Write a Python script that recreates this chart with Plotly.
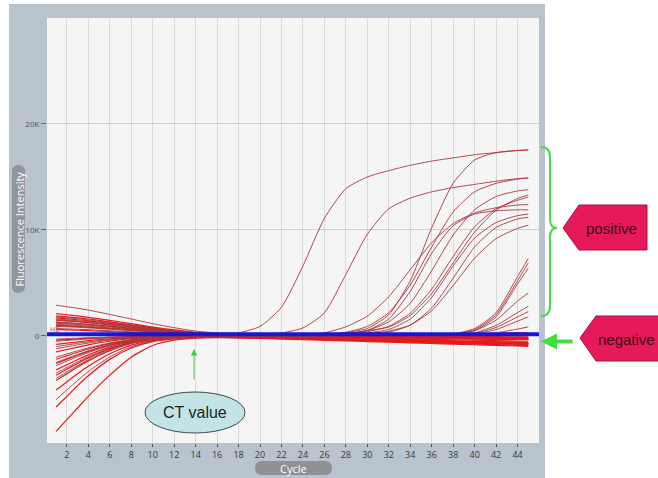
import plotly.graph_objects as go

# ---------------- data ----------------
cycles = [1, 2, 3, 4, 6, 8, 10, 12, 14, 16, 18, 20, 22, 24, 26, 28, 30, 32, 34, 36, 38, 40, 42, 44, 45]

positive_curves = [
    [2900, 2760, 2610, 2440, 2030, 1600, 1160, 780, 460, 290, 300, 900, 2700, 6600, 11100, 13900, 15000, 15600, 16100, 16500, 16800, 17100, 17300, 17500, 17550],
    [1800, 1710, 1620, 1510, 1260, 990, 720, 490, 300, 200, 150, 180, 280, 760, 2170, 5800, 9600, 12000, 13000, 13600, 14000, 14300, 14600, 14850, 14900],
    [1500, 1420, 1350, 1260, 1050, 820, 600, 400, 250, 150, 100, 80, 80, 100, 150, 330, 700, 2000, 5200, 10200, 14400, 16600, 17300, 17500, 17550],
    [1300, 1240, 1170, 1090, 910, 720, 520, 350, 210, 130, 80, 60, 50, 60, 120, 350, 900, 2200, 4800, 8400, 11700, 13600, 14400, 14800, 14900],
    [-300, -250, -210, -170, -100, -50, -20, 0, 10, 20, 30, 40, 50, 60, 80, 200, 520, 1330, 3080, 6160, 9520, 11900, 13160, 13680, 13800],
    [1100, 1050, 990, 920, 770, 600, 440, 300, 180, 110, 70, 50, 50, 60, 80, 150, 400, 910, 2140, 4420, 7500, 10300, 12000, 12800, 13100],
    [900, 860, 810, 760, 630, 500, 360, 240, 150, 90, 60, 50, 50, 60, 100, 220, 520, 1600, 4200, 7800, 10400, 11500, 11800, 11900, 11900],
    [-1000, -850, -700, -560, -330, -170, -80, -40, -20, 0, 10, 20, 30, 40, 60, 120, 300, 610, 1600, 3640, 6600, 9240, 10700, 11350, 11500],
    [-2000, -1700, -1400, -1120, -660, -340, -160, -80, -40, -20, 0, 10, 20, 30, 50, 100, 200, 360, 1020, 2640, 5450, 8400, 10240, 11040, 11200],
    [700, 670, 630, 590, 490, 390, 280, 190, 110, 70, 50, 40, 40, 50, 60, 100, 200, 450, 1030, 2380, 4750, 7340, 9180, 10150, 10450],
    [1600, 1520, 1440, 1340, 1120, 880, 640, 430, 260, 160, 100, 80, 80, 90, 120, 250, 500, 840, 1930, 4000, 6900, 9800, 11870, 12970, 13300],
    [-500, -420, -350, -280, -160, -80, -40, -20, 0, 10, 20, 40, 60, 120, 300, 860, 1870, 3700, 6250, 8800, 10600, 11600, 12100, 12350, 12400],
    [-1200, -1020, -840, -670, -400, -200, -100, -50, -30, -20, -10, 0, 10, 20, 30, 40, 60, 100, 130, 160, 200, 700, 2200, 5600, 7300],
    [-2500, -2120, -1750, -1400, -820, -420, -200, -100, -50, -30, -20, -10, 0, 10, 20, 30, 50, 70, 100, 120, 150, 600, 2000, 5200, 6900],
    [1200, 1140, 1080, 1010, 840, 660, 480, 320, 190, 120, 80, 60, 50, 50, 50, 60, 70, 80, 90, 100, 100, 500, 1800, 4900, 6400],
    [-3500, -2980, -2450, -1960, -1160, -600, -280, -140, -70, -40, -20, -10, 0, 10, 20, 30, 40, 60, 80, 120, 200, 500, 1500, 3300, 4050],
    [-4000, -3400, -2800, -2240, -1320, -680, -320, -160, -80, -50, -30, -20, -10, 0, 10, 20, 30, 40, 60, 100, 150, 300, 1000, 2200, 2800],
    [1000, 950, 900, 840, 700, 550, 400, 270, 160, 100, 70, 50, 40, 40, 40, 50, 60, 70, 80, 100, 120, 250, 800, 1800, 2300],
    [-2800, -2380, -1960, -1570, -920, -480, -220, -110, -60, -40, -20, -10, 0, 0, 10, 20, 30, 40, 60, 80, 100, 200, 600, 1400, 1800],
    [-6000, -5100, -4200, -3360, -1980, -1020, -480, -240, -120, -60, -30, -20, -10, 0, 0, 10, 20, 30, 40, 60, 80, 120, 300, 650, 850],
]

negative_curves = [
    [2100, 2000, 1890, 1760, 1470, 1160, 840, 570, 340, 210, 120, 60, 20, 0, -30, -60, -80, -100, -120, -150, -170, -190, -210, -230, -240],
    [1900, 1800, 1710, 1600, 1330, 1050, 760, 510, 300, 180, 90, 30, 0, -30, -60, -90, -120, -150, -180, -210, -240, -270, -300, -330, -340],
    [1700, 1620, 1530, 1430, 1190, 940, 680, 460, 270, 150, 80, 40, 20, 10, 0, 0, -10, -20, -30, -40, -50, -60, -70, -80, -90],
    [1500, 1430, 1350, 1260, 1050, 830, 600, 400, 240, 130, 50, 0, -50, -100, -150, -200, -250, -300, -350, -400, -450, -500, -550, -600, -620],
    [1300, 1240, 1170, 1090, 910, 720, 520, 350, 210, 120, 60, 20, 0, 0, 20, 40, 60, 80, 100, 130, 160, 200, 250, 300, 320],
    [1000, 950, 900, 840, 700, 550, 400, 270, 160, 80, 30, 0, -20, -40, -60, -80, -100, -120, -150, -180, -210, -240, -270, -300, -310],
    [600, 570, 540, 500, 420, 330, 240, 160, 90, 40, 0, -30, -60, -90, -120, -160, -200, -240, -280, -320, -360, -400, -440, -480, -500],
    [200, 190, 180, 160, 130, 100, 60, 30, 0, -20, -40, -60, -80, -100, -120, -140, -160, -180, -200, -220, -240, -260, -280, -300, -310],
    [-400, -340, -280, -220, -130, -70, -40, -30, -40, -60, -90, -120, -160, -200, -240, -280, -320, -360, -400, -440, -480, -520, -560, -600, -620],
    [-800, -680, -560, -450, -270, -150, -90, -70, -80, -100, -130, -170, -210, -260, -310, -360, -410, -460, -510, -560, -610, -660, -710, -760, -780],
    [-1500, -1280, -1050, -840, -500, -260, -120, -60, -30, -10, 0, 10, 20, 30, 40, 50, 60, 70, 80, 90, 100, 110, 120, 130, 140],
    [-2200, -1870, -1540, -1230, -730, -380, -180, -100, -80, -90, -120, -160, -200, -250, -300, -350, -400, -450, -500, -550, -600, -650, -700, -750, -770],
    [-2600, -2210, -1820, -1460, -860, -440, -210, -110, -60, -40, -30, -30, -40, -50, -60, -80, -100, -120, -140, -160, -180, -200, -220, -240, -250],
    [-3200, -2720, -2240, -1790, -1060, -540, -260, -150, -120, -140, -180, -230, -290, -350, -410, -470, -530, -590, -650, -710, -770, -830, -890, -950, -980],
    [-3700, -3150, -2590, -2070, -1220, -630, -300, -160, -100, -80, -80, -90, -100, -120, -140, -160, -180, -200, -220, -240, -260, -280, -300, -320, -330],
    [-4200, -3570, -2940, -2350, -1390, -710, -340, -180, -120, -120, -150, -190, -230, -280, -330, -380, -430, -480, -530, -580, -630, -680, -730, -780, -800],
    [-5100, -4340, -3570, -2860, -1680, -870, -410, -200, -110, -70, -50, -40, -40, -40, -50, -60, -70, -80, -90, -100, -110, -120, -130, -140, -150],
    [-6700, -5700, -4690, -3750, -2210, -1140, -540, -270, -150, -110, -110, -130, -160, -200, -240, -290, -340, -390, -440, -490, -540, -590, -640, -690, -710],
    [-9000, -7900, -6800, -5700, -3700, -2000, -900, -400, -200, -150, -160, -190, -230, -280, -340, -400, -460, -520, -580, -640, -700, -760, -820, -880, -910],
]

threshold = 150
x_ticks = list(range(2, 45, 2))
y_ticks = [0, 10000, 20000]
y_tick_labels = ["0", "10K", "20K"]

# ---------------- figure ----------------
W, H = 658, 478
PL, PR, PT, PB = 47, 539, 18, 443  # plot area in pixels


def fx(p):
    return (p - PL) / (PR - PL)


def fy(p):
    return (PB - p) / (PB - PT)


def path_px(points, close=True):
    s = ""
    for cmd, pts in points:
        s += cmd + " " + " ".join(f"{fx(a):.5f},{fy(b):.5f}" for a, b in pts) + " "
    if close:
        s += "Z"
    return s


def pill(x0, y0, x1, y1):
    r = min(x1 - x0, y1 - y0) / 2
    return path_px([
        ("M", [(x0 + r, y0)]), ("L", [(x1 - r, y0)]), ("Q", [(x1, y0), (x1, y0 + r)]),
        ("L", [(x1, y1 - r)]), ("Q", [(x1, y1), (x1 - r, y1)]), ("L", [(x0 + r, y1)]),
        ("Q", [(x0, y1), (x0, y1 - r)]), ("L", [(x0, y0 + r)]), ("Q", [(x0, y0), (x0 + r, y0)]),
    ])


fig = go.Figure()

for vals in negative_curves:
    fig.add_trace(go.Scatter(x=cycles, y=vals, mode="lines",
                             line=dict(color="#e01a1e", width=1.2, shape="spline", smoothing=0.6),
                             hoverinfo="skip", showlegend=False))
for vals in positive_curves:
    fig.add_trace(go.Scatter(x=cycles, y=vals, mode="lines",
                             line=dict(color="#a8363a", width=0.9, shape="spline", smoothing=0.6),
                             hoverinfo="skip", showlegend=False))

shapes = []
# white page outside the grey panel
for (x0, y0, x1, y1) in [(-5, -5, 9, 483), (545, -5, 665, 483), (-5, -5, 665, 4)]:
    shapes.append(dict(type="rect", xref="paper", yref="paper", layer="below",
                       x0=fx(x0), x1=fx(x1), y0=fy(y1), y1=fy(y0),
                       fillcolor="white", line=dict(width=0)))
# axis title pills
shapes.append(dict(type="path", xref="paper", yref="paper", layer="below",
                   path=pill(12, 165, 25, 293), fillcolor="#8f979e", line=dict(width=0)))
shapes.append(dict(type="path", xref="paper", yref="paper", layer="below",
                   path=pill(255, 461, 332, 475), fillcolor="#8f9294", line=dict(width=0)))
# threshold line
shapes.append(dict(type="line", xref="paper", yref="y", x0=0, x1=1, y0=threshold, y1=threshold,
                   line=dict(color="#1616d6", width=4)))
# CT value ellipse
shapes.append(dict(type="circle", xref="paper", yref="paper",
                   x0=fx(145), x1=fx(245), y0=fy(433), y1=fy(392),
                   fillcolor="#c3e3e7", line=dict(color="#3d4b52", width=1)))
# green brace
shapes.append(dict(type="path", xref="paper", yref="paper",
                   path=path_px([("M", [(541, 147)]), ("Q", [(550, 147), (550, 157)]),
                                 ("L", [(550, 219)]), ("Q", [(550, 228), (557, 228)]),
                                 ("Q", [(550, 228), (550, 237)]), ("L", [(550, 306)]),
                                 ("Q", [(550, 316), (541, 316)])], close=False),
                   line=dict(color="#44dd44", width=2)))
# positive / negative tags
shapes.append(dict(type="path", xref="paper", yref="paper",
                   path=path_px([("M", [(563, 228)]), ("L", [(579, 205)]), ("L", [(647, 205)]),
                                 ("L", [(647, 250)]), ("L", [(579, 250)])]),
                   fillcolor="#e6195a", line=dict(color="#a8103c", width=1)))
shapes.append(dict(type="path", xref="paper", yref="paper",
                   path=path_px([("M", [(580, 338)]), ("L", [(596, 316)]), ("L", [(668, 316)]),
                                 ("L", [(668, 361)]), ("L", [(596, 361)])]),
                   fillcolor="#e6195a", line=dict(color="#a8103c", width=1)))


def label(text, x, y, size, color, family="Liberation Sans", xanchor="center", **kw):
    return dict(text=text, x=fx(x), y=fy(y), xref="paper", yref="paper",
                xanchor=xanchor, yanchor="middle", showarrow=False,
                font=dict(family=family, size=size, color=color), **kw)


annotations = [
    label("Fluorescence Intensity", 18.5, 229, 11, "white", family="Open Sans", textangle=-90),
    label("Cycle", 293.5, 468.5, 11, "white", family="Open Sans"),
    label("CT value", 195, 412, 16, "#1e1e1e"),
    dict(text="", x=fx(194), y=fy(349), xref="paper", yref="paper", showarrow=True,
         ax=0, ay=32, arrowcolor="#3bd13b", arrowwidth=1, arrowhead=2, arrowsize=1.3),
    dict(text="", x=fx(541), y=fy(341.5), xref="paper", yref="paper", showarrow=True,
         ax=33, ay=0, arrowcolor="#3ee03e", arrowwidth=4, arrowhead=2, arrowsize=0.8),
    label("positive", 611, 228, 15, "#3a0a18"),
    label("negative", 596, 339, 15, "#3a0a18", xanchor="left"),
    label("HE", 48, 330, 7, "#d05050", family="DejaVu Sans", xanchor="left"),
]

fig.update_layout(
    width=W, height=H, autosize=False,
    margin=dict(l=PL, r=W - PR, t=PT, b=H - PB, pad=0),
    paper_bgcolor="#b8c3ce",
    plot_bgcolor="#f5f5f5",
    shapes=shapes,
    annotations=annotations,
    xaxis=dict(range=[0.15, 46.0], tickmode="array", tickvals=x_ticks,
               ticks="outside", ticklen=3, tickcolor="#555", tickwidth=1,
               tickfont=dict(family="Open Sans", size=9, color="#3a3a3a"),
               showgrid=True, gridcolor="#d9d9d9", gridwidth=1, zeroline=False, showline=False),
    yaxis=dict(range=[-10100, 30000], tickmode="array", tickvals=y_ticks, ticktext=y_tick_labels,
               ticks="outside", ticklen=5, tickcolor="#666", tickwidth=1,
               tickfont=dict(family="Open Sans", size=8, color="#555"),
               showgrid=True, gridcolor="#d0d0d0", gridwidth=1, zeroline=False, showline=False),
)

fig.write_html("out.html", config={"displayModeBar": False},
               post_script="document.body.style.margin='0px';document.body.style.overflow='hidden';")
